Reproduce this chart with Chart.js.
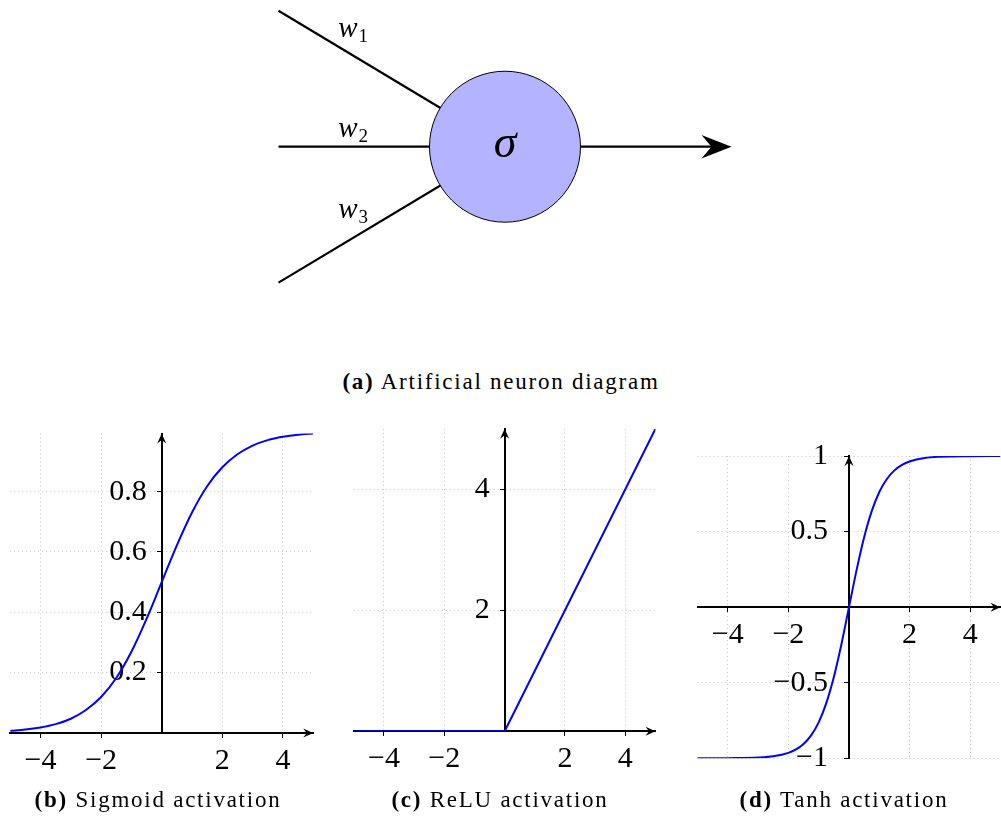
<!DOCTYPE html>
<html>
<head>
<meta charset="utf-8">
<script src="https://cdn.jsdelivr.net/npm/chart.js@4.4.1/dist/chart.umd.min.js"></script>
<style>
  html, body { margin: 0; padding: 0; background: #fff; }
  body { position: relative; width: 1001px; height: 818px; overflow: hidden; font-family: "Liberation Serif", serif; color: #000; }
  canvas { position: absolute; }
  .cap { position: absolute; width: 500px; margin-left: -250px; text-align: center; font-size: 23px; line-height: 24px; letter-spacing: 1.75px; white-space: nowrap; }
</style>
</head>
<body>
<canvas id="neuron" width="1001" height="340" style="left:0;top:0"></canvas>
<canvas id="sigmoid" width="330" height="395" style="left:0;top:395px"></canvas>
<canvas id="relu" width="330" height="395" style="left:340px;top:395px"></canvas>
<canvas id="tanh" width="321" height="395" style="left:680px;top:395px"></canvas>
<div class="cap" style="left:501px;top:370px"><b>(a)</b> Artificial neuron diagram</div>
<div class="cap" style="left:158px;top:788px"><b>(b)</b> Sigmoid activation</div>
<div class="cap" style="left:500px;top:788px"><b>(c)</b> ReLU activation</div>
<div class="cap" style="left:844px;top:788px"><b>(d)</b> Tanh activation</div>
<script>
// x ticks shared by the three activation plots
const xTicks = [-4, -2, 2, 4];

const sigX = [-5, -4.5, -4, -3.5, -3, -2.5, -2, -1.5, -1, -0.5, 0, 0.5, 1, 1.5, 2, 2.5, 3, 3.5, 4, 4.5, 5];
const sigY = [0.007, 0.011, 0.018, 0.029, 0.047, 0.076, 0.119, 0.182, 0.269, 0.378, 0.5,
              0.622, 0.731, 0.818, 0.881, 0.924, 0.953, 0.971, 0.982, 0.989, 0.993];
const sigYTicks = [0.2, 0.4, 0.6, 0.8];

const reluX = [-5, 0, 5];
const reluY = [0, 0, 5];
const reluYTicks = [2, 4];

const tanhX = [-5, -4, -3, -2.5, -2, -1.75, -1.5, -1.25, -1, -0.75, -0.5, -0.25, 0,
               0.25, 0.5, 0.75, 1, 1.25, 1.5, 1.75, 2, 2.5, 3, 4, 5];
const tanhY = [-1, -0.999, -0.995, -0.987, -0.964, -0.941, -0.905, -0.848, -0.762, -0.635, -0.462, -0.245, 0,
               0.245, 0.462, 0.635, 0.762, 0.848, 0.905, 0.941, 0.964, 0.987, 0.995, 0.999, 1];
const tanhYTicks = [-1, -0.5, 0.5, 1];

// neuron sketch, measured in circle radii
const neuronRadius = 1;
const inputX = [-3, -3, -3];
const inputY = [1.8, 0, -1.8];
const weightSubs = ['1', '2', '3'];
const weightLabelX = [-2.21, -2.21, -2.21];
const weightLabelY = [1.457, 0.132, -0.949];
const outputTip = [3, 0];
const sigmaBaseline = -0.141;

const tickFont = { family: 'Liberation Serif', size: 30 };
const fmt = v => (v < 0 ? '\u2212' : '') + Math.abs(v);

function arrowHead(ctx, x, y, angle, len, half, notch) {
  ctx.save();
  ctx.translate(x, y);
  ctx.rotate(angle);
  ctx.beginPath();
  ctx.moveTo(0, 0);
  ctx.lineTo(-len, -half);
  ctx.lineTo(-len + notch, 0);
  ctx.lineTo(-len, half);
  ctx.closePath();
  ctx.fillStyle = '#000';
  ctx.fill();
  ctx.restore();
}

const axisArrows = {
  id: 'axisArrows',
  afterDraw(chart) {
    const { ctx, chartArea, scales: { x, y } } = chart;
    arrowHead(ctx, chartArea.right, y.getPixelForValue(0), 0, 10, 4.5, 3.5);
    arrowHead(ctx, x.getPixelForValue(0), chartArea.top, -Math.PI / 2, 10, 4.5, 3.5);
  }
};

// y labels sit right-aligned on the centred axis, the trailing gap keeps them off it
function axis(min, max, ticks, pos, pad, gap) {
  return {
    type: 'linear', min, max, position: pos,
    afterBuildTicks: s => { s.ticks = ticks.map(value => ({ value })); },
    grid: { color: '#c4c4c4', lineWidth: 1, tickColor: '#000', tickLength: 4 },
    border: { color: '#000', width: 2, dash: [1, 3] },
    ticks: { font: tickFont, color: '#000', padding: pad, autoSkip: false, maxRotation: 0,
             callback: v => fmt(v) + gap }
  };
}

function makePlot(id, xs, ys, yMin, yMax, yTicks, padding, smooth, gap) {
  new Chart(document.getElementById(id), {
    type: 'scatter',
    data: {
      datasets: [{
        data: xs.map((x, i) => ({ x, y: ys[i] })),
        showLine: true,
        borderColor: '#0000ff',
        borderWidth: 2,
        pointRadius: 0,
        cubicInterpolationMode: smooth ? 'monotone' : 'default',
        tension: 0
      }]
    },
    options: {
      responsive: false,
      animation: false,
      events: [],
      layout: { padding },
      plugins: { legend: { display: false }, tooltip: { enabled: false } },
      scales: {
        x: axis(-5, 5, xTicks, { y: 0 }, 6, ''),
        y: axis(yMin, yMax, yTicks, { x: 0 }, 10, gap)
      }
    },
    plugins: [axisArrows]
  });
}

makePlot('sigmoid', sigX, sigY, 0, Math.max(...sigY), sigYTicks,
  { left: 10.2, right: 16.8, top: 38.5, bottom: 57.1 }, true, '  ');
makePlot('relu', reluX, reluY, 0, 5, reluYTicks,
  { left: 13.8, right: 14.5, top: 33.8, bottom: 58.7 }, false, '  ');
makePlot('tanh', tanhX, tanhY, -1, 1, tanhYTicks,
  { left: 17.5, right: 0.5, top: 61, bottom: 31.7 }, true, '  \u2009');

// neuron: lines drawn to the centre, the filled circle covers the inside
const neuronLabels = {
  id: 'neuronLabels',
  afterDatasetsDraw(chart) {
    const { ctx, scales: { x, y } } = chart;
    ctx.save();
    ctx.fillStyle = '#000';
    ctx.textBaseline = 'alphabetic';
    ctx.textAlign = 'left';
    weightSubs.forEach((s, i) => {
      const px = x.getPixelForValue(weightLabelX[i]);
      const py = y.getPixelForValue(weightLabelY[i]);
      ctx.font = 'italic 29px "Liberation Serif"';
      ctx.fillText('w', px, py);
      const w = ctx.measureText('w').width;
      ctx.font = '19px "Liberation Serif"';
      ctx.fillText(s, px + w + 1, py + 5);
    });
    ctx.font = 'italic 46px "Liberation Serif"';
    ctx.textAlign = 'center';
    ctx.fillText('\u03c3', x.getPixelForValue(0), y.getPixelForValue(sigmaBaseline));
    arrowHead(ctx, x.getPixelForValue(outputTip[0]), y.getPixelForValue(outputTip[1]), 0, 30, 11.7, 10);
    ctx.restore();
  }
};

const line = (x0, y0, x1, y1) => ({
  data: [{ x: x0, y: y0 }, { x: x1, y: y1 }],
  showLine: true, borderColor: '#000', borderWidth: 2.2, pointRadius: 0
});

new Chart(document.getElementById('neuron'), {
  type: 'scatter',
  data: {
    datasets: [
      {
        data: [{ x: 0, y: 0 }],
        pointRadius: c => c.chart.scales.x.getPixelForValue(neuronRadius) - c.chart.scales.x.getPixelForValue(0),
        pointBackgroundColor: '#b3b3ff',
        pointBorderColor: '#000',
        pointBorderWidth: 1
      },
      ...inputX.map((x, i) => line(x, inputY[i], 0, 0)),
      line(0, 0, outputTip[0] - 0.2, outputTip[1])
    ]
  },
  options: {
    responsive: false,
    animation: false,
    events: [],
    layout: { padding: 0 },
    plugins: { legend: { display: false }, tooltip: { enabled: false } },
    scales: {
      x: { type: 'linear', min: -6.689, max: 6.570, display: false },
      y: { type: 'linear', min: -2.560, max: 1.943, display: false }
    }
  },
  plugins: [neuronLabels]
});
</script>
</body>
</html>
